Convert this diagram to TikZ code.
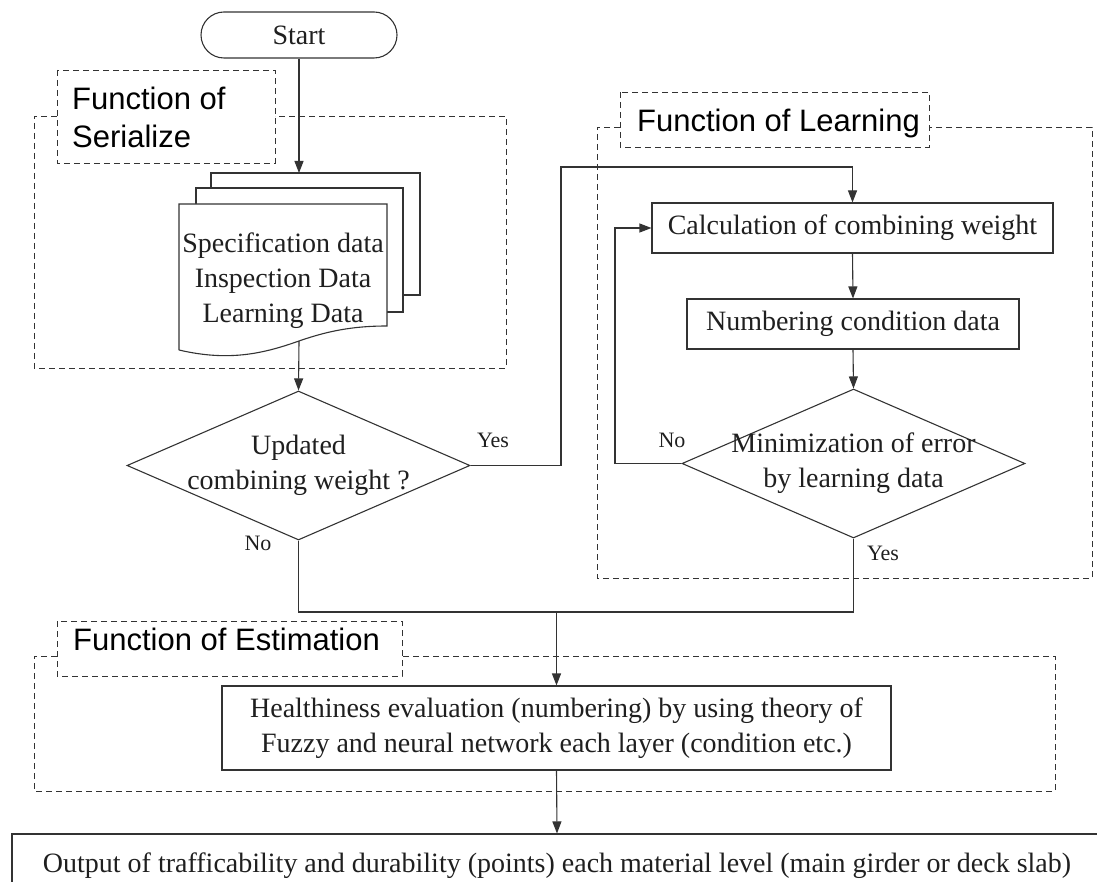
\documentclass[tikz,border=0pt]{standalone}
\usepackage{fontspec}
\setmainfont{Liberation Serif}
\newfontfamily\gothic{Liberation Sans}
\usetikzlibrary{arrows.meta,shapes.geometric}
\newcommand\mainsz{\fontsize{28}{35}\selectfont}
\newcommand\ynsz{\fontsize{22}{26}\selectfont}
\newcommand\ttlsz{\gothic\fontsize{31}{38}\selectfont}
\colorlet{ln}{black!80}
\begin{document}
\begin{tikzpicture}[x=1pt,y=-1pt,
  box/.style={draw=ln, line width=1.1pt, rectangle, inner sep=0, font=\mainsz, text=black!88},
  dia/.style={draw=ln, line width=1.1pt, diamond, inner sep=0, minimum width=343, minimum height=149},
  region/.style={draw=ln, line width=0.9pt, dash pattern=on 6pt off 4pt},
  conn/.style={draw=ln, line width=1.1pt},
  arr/.style={conn, -{Triangle[length=12pt,width=9pt]}},
  yn/.style={font=\ynsz, inner sep=0, text=black!88},
  ttl/.style={font=\ttlsz, inner sep=0, anchor=base west, text=black},
  page/.style={draw=ln, line width=1.1pt, fill=white}]
\useasboundingbox (0,0) rectangle (1097,882);

% ---------- regions ----------
\draw[region] (57,116) -- (34,116) -- (34,368) -- (506,368) -- (506,116) -- (275,116);
\draw[region] (57,70) rectangle (275,163);
\node[ttl] (tser1) at (72,110) {Function of};
\node[ttl] (tser2) at (72,148) {Serialize};

\draw[region] (620,127) -- (597,127) -- (597,578) -- (1092,578) -- (1092,127) -- (929,127);
\draw[region] (620,92) rectangle (929,147);
\node[ttl] (tlearn) at (637,132) {Function of Learning};

\draw[region] (57,656) -- (34,656) -- (34,791) -- (1055,791) -- (1055,656) -- (402,656);
\draw[region] (57,621) rectangle (402,676);
\node[ttl] (testi) at (73,650) {Function of Estimation};

% ---------- start ----------
\node[box, rounded corners=23pt, minimum width=196, minimum height=46] (start) at (299,35) {Start};

% ---------- document stack ----------
\draw[page] (211,188) -- (211,173) -- (420,173) -- (420,295) -- (403,295);
\draw[page] (196,204) -- (196,188) -- (403,188) -- (403,312) -- (387,312);
\draw[page] (179,350) -- (179,204) -- (387,204) -- (387,326)
  .. controls (350,326) and (325,332) .. (299,341)
  .. controls (265,353) and (230,362) .. (179,350);
\node[font=\mainsz, align=center, inner sep=0, text=black!88] (doc) at (283,281)
  {Specification data\\Inspection Data\\Learning Data};
\coordinate (stk) at (299,173);
\coordinate (docb) at (299,341);

% ---------- decisions and boxes ----------
\node[dia, label={[font=\mainsz, align=center, text=black!88]center:{Updated\\combining weight ?}}] (d1) at (298.5,465.5) {};
\node[box, minimum width=401, minimum height=50] (calc) at (852.5,228) {Calculation of combining weight};
\node[box, minimum width=332, minimum height=50] (num) at (853,324) {Numbering condition data};
\node[dia, label={[font=\mainsz, align=center, text=black!88]center:{Minimization of error\\by learning data}}] (d2) at (853.5,463.5) {};
\node[box, align=center, minimum width=669, minimum height=84] (heal) at (556.5,728)
  {Healthiness evaluation (numbering) by using theory of\\Fuzzy and neural network each layer (condition etc.)};
\node[box, minimum width=1090, minimum height=64] (out) at (557,866)
  {Output of trafficability and durability (points) each material level (main girder or deck slab)};

% ---------- labels ----------
\node[yn] (y1) at (493,440) {Yes};
\node[yn] (n1) at (258,543) {No};
\node[yn] (n2) at (672,440) {No};
\node[yn] (y2) at (883,553) {Yes};

% ---------- connectors ----------
\coordinate (ya) at (561,167);
\coordinate (nb) at (615,228);
\coordinate (mg) at (556.5,612);
\draw[arr] (start.south) -- (stk);
\draw[arr] (docb) -- (d1.north);
\draw[arr] (d1.east) -| (ya) -| (calc.north);
\draw[arr] (calc.south) -- (num.north);
\draw[arr] (num.south) -- (d2.north);
\draw[arr] (d2.west) -| (nb) -- (calc.west);
\draw[conn] (d1.south) |- (mg);
\draw[conn] (d2.south) |- (mg);
\draw[arr] (mg) -- (heal.north);
\draw[arr] (heal.south) -- (out.north);
\end{tikzpicture}
\end{document}
